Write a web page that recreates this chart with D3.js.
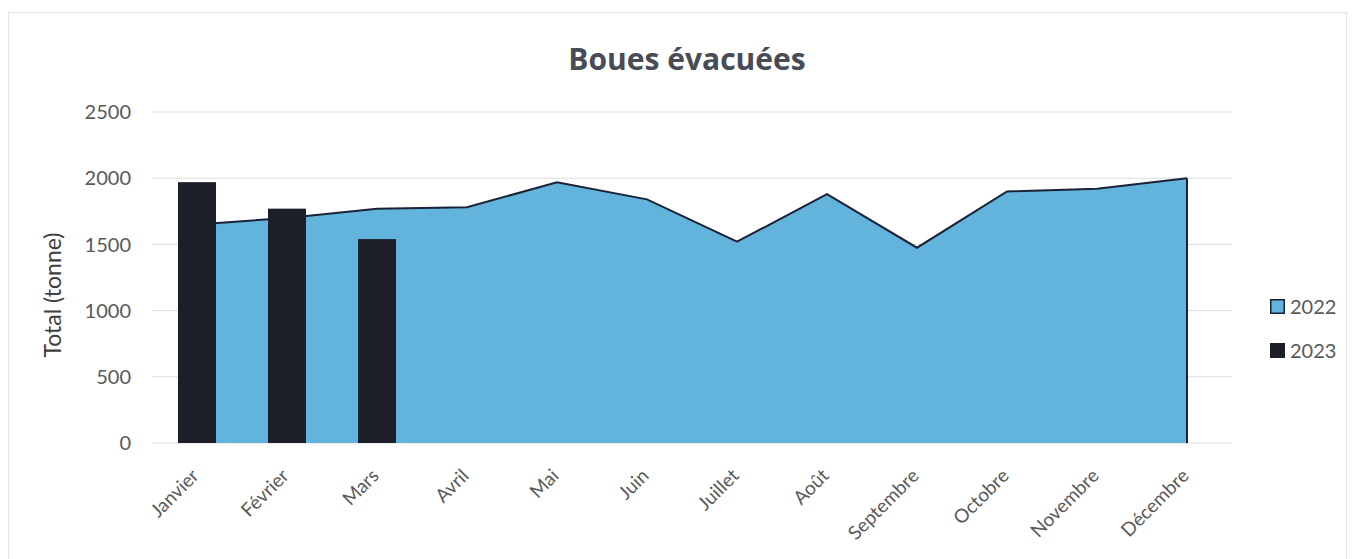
<!DOCTYPE html>
<html>
<head>
<meta charset="utf-8">
<script src="https://cdn.jsdelivr.net/npm/d3@7"></script>
<style>
  body { margin: 0; background: #fff; }
  text { font-family: Lato, "Open Sans", sans-serif; }
</style>
</head>
<body>
<svg id="chart" width="1353" height="559"></svg>
<script>
// data
const months = ["Janvier", "Février", "Mars", "Avril", "Mai", "Juin", "Juillet", "Août", "Septembre", "Octobre", "Novembre", "Décembre"];
const v2022 = [1650, 1700, 1770, 1780, 1970, 1840, 1520, 1880, 1475, 1900, 1920, 2000];
const v2023 = [1970, 1770, 1540];
const yTicks = [0, 500, 1000, 1500, 2000, 2500];

const svg = d3.select("#chart");
const m = {left: 152, right: 1232, top: 112, bottom: 443};

// faint frame of the chart
svg.append("rect").attr("x", 8.5).attr("y", 12.5).attr("width", 1338).attr("height", 560)
  .attr("fill", "none").attr("stroke", "#e3e3e3");

const x = d3.scaleBand().domain(months).range([m.left, m.right]).paddingInner(0).paddingOuter(0);
const y = d3.scaleLinear().domain([0, 2500]).range([m.bottom, m.top]);

// grid
svg.append("g").selectAll("line").data(yTicks).join("line")
  .attr("x1", m.left).attr("x2", m.right)
  .attr("y1", d => y(d)).attr("y2", d => y(d))
  .attr("stroke", "#dcdcdc").attr("stroke-width", 1);

// y labels
svg.append("g").selectAll("text").data(yTicks).join("text")
  .attr("x", 131).attr("y", d => y(d)).attr("dy", "0.36em")
  .attr("text-anchor", "end").attr("font-size", 20).attr("fill", "#595959")
  .text(d => d);

// area 2022
const cx = d => x(d) + x.bandwidth() / 2;
const area = d3.area().x((d, i) => cx(months[i])).y0(y(0)).y1(d => y(d));
const line = d3.line().x((d, i) => cx(months[i])).y(d => y(d));
svg.append("path").datum(v2022).attr("d", area).attr("fill", "#62b4dc");
svg.append("path").datum(v2022).attr("d", line).attr("fill", "none")
  .attr("stroke", "#1a2236").attr("stroke-width", 2);
// right edge of the area
svg.append("line").attr("x1", cx(months[11])).attr("x2", cx(months[11]))
  .attr("y1", y(v2022[11])).attr("y2", y(0)).attr("stroke", "#1a2236").attr("stroke-width", 2);

// bars 2023
const bw = 38;
svg.append("g").selectAll("rect").data(v2023).join("rect")
  .attr("x", (d, i) => cx(months[i]) - bw / 2).attr("width", bw)
  .attr("y", d => y(d)).attr("height", d => y(0) - y(d))
  .attr("fill", "#1c1e2a");

// x labels
svg.append("g").selectAll("text").data(months).join("text")
  .attr("transform", d => `translate(${cx(d) + 3},${m.bottom + 34}) rotate(-45)`)
  .attr("text-anchor", "end").attr("font-size", 19).attr("fill", "#595959")
  .text(d => d);

// title
svg.append("text").attr("x", 687).attr("y", 70).attr("text-anchor", "middle")
  .style("font-family", "'Open Sans', sans-serif")
  .attr("font-size", 30).attr("font-weight", "bold").attr("fill", "#474c56")
  .text("Boues évacuées");

// y axis title
svg.append("text").attr("transform", "translate(61,295) rotate(-90)")
  .attr("text-anchor", "middle").attr("font-size", 23).attr("fill", "#404040")
  .text("Total (tonne)");

// legend
const legend = [{k: "2022", fill: "#62b4dc", stroke: "#1a2236"}, {k: "2023", fill: "#1c1e2a", stroke: "#1c1e2a"}];
const lg = svg.append("g").selectAll("g").data(legend).join("g")
  .attr("transform", (d, i) => `translate(1270,${306 + i * 44})`);
lg.append("rect").attr("x", 0.75).attr("y", -6.25).attr("width", 13.5).attr("height", 13.5)
  .attr("fill", d => d.fill).attr("stroke", d => d.stroke).attr("stroke-width", 1.5);
lg.append("text").attr("x", 20).attr("y", 1).attr("dy", "0.36em")
  .attr("font-size", 20).attr("fill", "#595959").text(d => d.k);
</script>
</body>
</html>
